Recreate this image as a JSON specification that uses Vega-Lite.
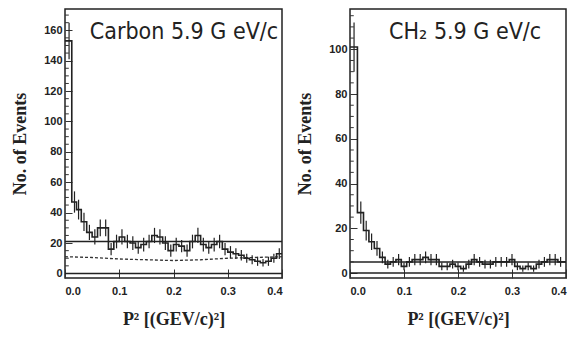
{
  "$schema": "https://vega.github.io/schema/vega-lite/v6.json",
  "padding": {"left": 10, "top": 8, "right": 4, "bottom": 0},
  "background": "white",
  "spacing": 9,
  "config": {
    "view": {"stroke": "#222", "strokeWidth": 1.5},
    "axis": {
      "domain": false, "grid": false, "labelOverlap": false,
      "labelFont": "Liberation Sans", "labelFontWeight": "bold", "labelFontSize": 11, "labelColor": "#222",
      "titleFont": "Liberation Serif", "titleFontWeight": "bold", "titleFontSize": 18, "titleColor": "#222",
      "tickColor": "#333", "tickWidth": 1
    }
  },
  "datasets": {
    "carbon": [
      {"x": 0.0, "n": 153, "e": 0},
      {"x": 0.0075, "n": 153, "e": 12},
      {"x": 0.0175, "n": 47, "e": 7},
      {"x": 0.025, "n": 42, "e": 6.5},
      {"x": 0.035, "n": 34, "e": 6},
      {"x": 0.045, "n": 27, "e": 5},
      {"x": 0.055, "n": 24, "e": 5},
      {"x": 0.065, "n": 30, "e": 5.5},
      {"x": 0.075, "n": 30, "e": 5.5},
      {"x": 0.085, "n": 16, "e": 4},
      {"x": 0.095, "n": 21, "e": 4.5},
      {"x": 0.105, "n": 24, "e": 5},
      {"x": 0.115, "n": 21, "e": 4.5},
      {"x": 0.125, "n": 20, "e": 4.5},
      {"x": 0.135, "n": 17, "e": 4},
      {"x": 0.145, "n": 19, "e": 4.5},
      {"x": 0.155, "n": 21, "e": 4.5},
      {"x": 0.165, "n": 25, "e": 5},
      {"x": 0.175, "n": 24, "e": 5},
      {"x": 0.185, "n": 20, "e": 4.5},
      {"x": 0.195, "n": 15, "e": 4},
      {"x": 0.205, "n": 19, "e": 4.5},
      {"x": 0.215, "n": 18, "e": 4},
      {"x": 0.225, "n": 15, "e": 4},
      {"x": 0.235, "n": 21, "e": 4.5},
      {"x": 0.245, "n": 25, "e": 5},
      {"x": 0.255, "n": 19, "e": 4.5},
      {"x": 0.265, "n": 17, "e": 4},
      {"x": 0.275, "n": 19, "e": 4.5},
      {"x": 0.285, "n": 21, "e": 4.5},
      {"x": 0.295, "n": 16, "e": 4},
      {"x": 0.305, "n": 14, "e": 4},
      {"x": 0.315, "n": 13, "e": 3.5},
      {"x": 0.325, "n": 12, "e": 3.5},
      {"x": 0.335, "n": 10, "e": 3},
      {"x": 0.345, "n": 9, "e": 3},
      {"x": 0.355, "n": 8, "e": 3},
      {"x": 0.365, "n": 7, "e": 2.5},
      {"x": 0.375, "n": 8, "e": 3},
      {"x": 0.385, "n": 10, "e": 3},
      {"x": 0.395, "n": 13, "e": 3.5},
      {"x": 0.4, "n": 13, "e": 0}
    ],
    "carbonBg": [
      {"x": 0.0, "n": 11},
      {"x": 0.05, "n": 10.5},
      {"x": 0.1, "n": 9.5},
      {"x": 0.15, "n": 9},
      {"x": 0.2, "n": 8.5},
      {"x": 0.25, "n": 9},
      {"x": 0.3, "n": 10},
      {"x": 0.35, "n": 10.5},
      {"x": 0.4, "n": 11}
    ],
    "carbonLevels": [{"y": 21}, {"y": 0}],
    "carbonMinor": [{"y":5},{"y":10},{"y":15},{"y":25},{"y":30},{"y":35},{"y":45},{"y":50},{"y":55},{"y":65},{"y":70},{"y":75},{"y":85},{"y":90},{"y":95},{"y":105},{"y":110},{"y":115},{"y":125},{"y":130},{"y":135},{"y":145},{"y":150},{"y":155},{"y":165},{"y":170}],
    "ch2": [
      {"x": 0.0, "n": 101, "e": 0},
      {"x": 0.0075, "n": 101, "e": 11},
      {"x": 0.02, "n": 27, "e": 5},
      {"x": 0.03, "n": 19, "e": 4.4},
      {"x": 0.04, "n": 14, "e": 3.7},
      {"x": 0.05, "n": 11, "e": 3.3},
      {"x": 0.06, "n": 7, "e": 2.6},
      {"x": 0.07, "n": 4, "e": 2},
      {"x": 0.08, "n": 5, "e": 2.2},
      {"x": 0.09, "n": 6, "e": 2.5},
      {"x": 0.1, "n": 3, "e": 1.7},
      {"x": 0.11, "n": 5, "e": 2.2},
      {"x": 0.12, "n": 6, "e": 2.5},
      {"x": 0.13, "n": 6, "e": 2.5},
      {"x": 0.14, "n": 7, "e": 2.6},
      {"x": 0.15, "n": 6, "e": 2.5},
      {"x": 0.16, "n": 6, "e": 2.5},
      {"x": 0.17, "n": 3, "e": 1.7},
      {"x": 0.18, "n": 3, "e": 1.7},
      {"x": 0.19, "n": 4, "e": 2},
      {"x": 0.2, "n": 3, "e": 1.7},
      {"x": 0.21, "n": 2, "e": 1.4},
      {"x": 0.22, "n": 4, "e": 2},
      {"x": 0.23, "n": 6, "e": 2.5},
      {"x": 0.24, "n": 5, "e": 2.2},
      {"x": 0.25, "n": 4, "e": 2},
      {"x": 0.26, "n": 4, "e": 2},
      {"x": 0.27, "n": 5, "e": 2.2},
      {"x": 0.28, "n": 5, "e": 2.2},
      {"x": 0.29, "n": 5, "e": 2.2},
      {"x": 0.3, "n": 6, "e": 2.5},
      {"x": 0.31, "n": 3, "e": 1.7},
      {"x": 0.32, "n": 2, "e": 1.4},
      {"x": 0.33, "n": 3, "e": 1.7},
      {"x": 0.34, "n": 2, "e": 1.4},
      {"x": 0.35, "n": 4, "e": 2},
      {"x": 0.36, "n": 5, "e": 2.2},
      {"x": 0.37, "n": 6, "e": 2.5},
      {"x": 0.38, "n": 6, "e": 2.5},
      {"x": 0.39, "n": 5, "e": 2.2},
      {"x": 0.4, "n": 5, "e": 0}
    ],
    "ch2Levels": [{"y": 5}, {"y": 0}],
    "ch2Minor": [{"y":5},{"y":10},{"y":15},{"y":25},{"y":30},{"y":35},{"y":45},{"y":50},{"y":55},{"y":65},{"y":70},{"y":75},{"y":85},{"y":90},{"y":95},{"y":105},{"y":110},{"y":115}]
  },
  "hconcat": [
    {
      "width": 217, "height": 269,
      "title": {"text": "Carbon  5.9 G eV/c", "anchor": "end", "offset": -35, "dx": -7, "font": "DejaVu Sans Condensed, Liberation Sans, sans-serif", "fontSize": 23, "fontWeight": "normal", "color": "#222"},
      "layer": [
        {
          "data": {"name": "carbonLevels"},
          "mark": {"type": "rule", "color": "#222", "strokeWidth": 1.5},
          "encoding": {
            "y": {"field": "y", "type": "quantitative", "scale": {"domain": [-3, 174], "nice": false, "zero": false},
              "title": "No. of Events",
              "axis": {
                "values": [0, 20, 40, 60, 80, 100, 120, 140, 160],
                "tickCount": 40,
                "labelOverlap": false,
                "tickSize": -7,
                "labelPadding": 10, "titlePadding": 14
              }
            }
          }
        },
        {
          "data": {"name": "carbonMinor"},
          "mark": {"type": "rule", "color": "#333", "strokeWidth": 1},
          "encoding": {
            "x": {"datum": 0, "type": "quantitative"},
            "x2": {"datum": 0.007},
            "y": {"field": "y", "type": "quantitative", "title": "No. of Events"}
          }
        },
        {
          "data": {"name": "carbonBg"},
          "mark": {"type": "line", "color": "#333", "strokeWidth": 1.3, "strokeDash": [3, 2]},
          "encoding": {
            "x": {"field": "x", "type": "quantitative", "title": "P² [(GEV/c)²]"},
            "y": {"field": "n", "type": "quantitative", "title": "No. of Events"}
          }
        },
        {
          "data": {"name": "carbon"},
          "mark": {"type": "line", "interpolate": "step", "color": "#222", "strokeWidth": 1.6},
          "encoding": {
            "x": {"field": "x", "type": "quantitative", "scale": {"domain": [0, 0.4], "nice": false, "zero": false},
              "title": "P² [(GEV/c)²]",
              "axis": {"values": [0, 0.1, 0.2, 0.3, 0.4], "tickCount": 20, "format": ".1f", "labelOverlap": false, "tickSize": -9, "labelPadding": 16, "titlePadding": 14}
            },
            "y": {"field": "n", "type": "quantitative", "title": "No. of Events"}
          }
        },
        {
          "data": {"name": "carbon"},
          "mark": {"type": "errorbar", "color": "#222", "thickness": 1.2},
          "encoding": {
            "x": {"field": "x", "type": "quantitative", "title": "P² [(GEV/c)²]"},
            "y": {"field": "n", "type": "quantitative", "title": "No. of Events"},
            "yError": {"field": "e"}
          }
        }
      ]
    },
    {
      "width": 216, "height": 269,
      "title": {"text": "CH₂ 5.9 G eV/c", "anchor": "end", "offset": -35, "dx": -28, "font": "DejaVu Sans Condensed, Liberation Sans, sans-serif", "fontSize": 23, "fontWeight": "normal", "color": "#222"},
      "layer": [
        {
          "data": {"name": "ch2Levels"},
          "mark": {"type": "rule", "color": "#222", "strokeWidth": 1.5},
          "encoding": {
            "y": {"field": "y", "type": "quantitative", "scale": {"domain": [-2.2, 118], "nice": false, "zero": false},
              "title": "No. of Events",
              "axis": {
                "values": [0, 20, 40, 60, 80, 100],
                "tickCount": 40,
                "labelOverlap": false,
                "tickSize": -7,
                "labelPadding": 10, "titlePadding": 14
              }
            }
          }
        },
        {
          "data": {"name": "ch2Minor"},
          "mark": {"type": "rule", "color": "#333", "strokeWidth": 1},
          "encoding": {
            "x": {"datum": 0, "type": "quantitative"},
            "x2": {"datum": 0.007},
            "y": {"field": "y", "type": "quantitative", "title": "No. of Events"}
          }
        },
        {
          "data": {"name": "ch2"},
          "mark": {"type": "line", "interpolate": "step", "color": "#222", "strokeWidth": 1.6},
          "encoding": {
            "x": {"field": "x", "type": "quantitative", "scale": {"domain": [0, 0.4], "nice": false, "zero": false},
              "title": "P² [(GEV/c)²]",
              "axis": {"values": [0, 0.1, 0.2, 0.3, 0.4], "tickCount": 20, "format": ".1f", "labelOverlap": false, "tickSize": -9, "labelPadding": 16, "titlePadding": 14}
            },
            "y": {"field": "n", "type": "quantitative", "title": "No. of Events"}
          }
        },
        {
          "data": {"name": "ch2"},
          "mark": {"type": "errorbar", "color": "#222", "thickness": 1.2},
          "encoding": {
            "x": {"field": "x", "type": "quantitative", "title": "P² [(GEV/c)²]"},
            "y": {"field": "n", "type": "quantitative", "title": "No. of Events"},
            "yError": {"field": "e"}
          }
        }
      ]
    }
  ]
}
